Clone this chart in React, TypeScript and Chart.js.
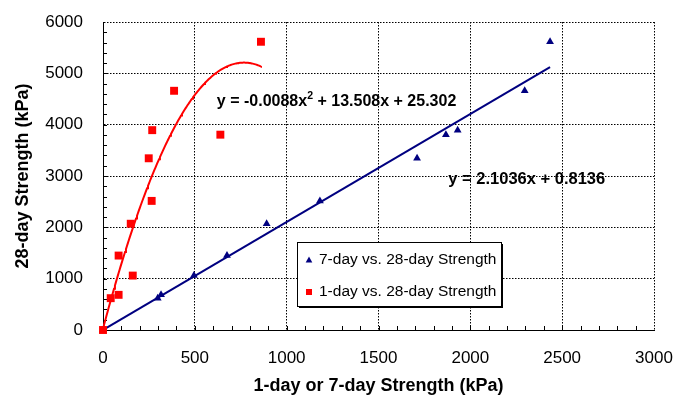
import React, { useEffect, useRef } from 'react';
import { Chart, registerables } from 'chart.js';

Chart.register(...registerables);

const FONT = '"Liberation Sans", Arial, Helvetica, sans-serif';
const NAVY = '#000080';
const RED = '#FF0000';

// 28-day strength (kPa) of each specimen
const strength28 = [0, 620, 685, 1060, 1450, 2070, 2515, 3345, 3805, 3893, 4660, 5615];
// 7-day strength (kPa) of the same specimens
const strength7 = [0, 298, 316, 495, 675, 891, 1181, 1710, 1867, 1931, 2296, 2434];
// 1-day strength (kPa) of the same specimens
const strength1 = [0, 42, 85, 162, 85, 151, 265, 249, 639, 268, 387, 860];

// Trendline coefficients (highest power first)
const linearFit = [2.1036, 0.8136];
const quadFit = [-0.0088, 13.508, 25.302];

// Axis ticks
const xTicks = [0, 500, 1000, 1500, 2000, 2500, 3000];
const yTicks = [0, 1000, 2000, 3000, 4000, 5000, 6000];
const X_MINOR = 100;
const Y_MINOR = 200;

const seriesNames = ['7-day vs. 28-day Strength', '1-day vs. 28-day Strength'];
const xTitle = '1-day or 7-day Strength (kPa)';
const yTitle = '28-day Strength (kPa)';

// Equation labels: text parts and the data position where each one starts
const quadLabel = [{ t: 'y = -0.0088x' }, { t: '2', sup: true }, { t: ' + 13.508x + 25.302' }];
const quadLabelAt = { x: 620, y: 4442 };
const linLabel = [{ t: 'y = 2.1036x + 0.8136' }];
const linLabelAt = { x: 1880, y: 2942 };

const evalPoly = (c: number[], x: number) => c.reduce((acc, k) => acc * x + k, 0);

const fitPoints = (c: number[], xMax: number, step: number) => {
  const pts: { x: number; y: number }[] = [];
  for (let x = 0; x < xMax; x += step) pts.push({ x, y: evalPoly(c, x) });
  pts.push({ x: xMax, y: evalPoly(c, xMax) });
  return pts;
};

const drawEquation = (ctx: CanvasRenderingContext2D, parts: { t: string; sup?: boolean }[], x: number, y: number, size: number) => {
  let cx = x;
  ctx.textAlign = 'left';
  ctx.textBaseline = 'middle';
  ctx.fillStyle = '#000';
  for (const p of parts) {
    const s = p.sup ? size * 0.66 : size;
    ctx.font = `bold ${s}px ${FONT}`;
    ctx.fillText(p.t, cx, p.sup ? y - size * 0.36 : y);
    cx += ctx.measureText(p.t).width;
  }
};

const decorations = {
  id: 'decorations',
  beforeDatasetsDraw(chart: any) {
    const { ctx, chartArea: a, scales } = chart;
    const x = scales.x;
    const y = scales.y;
    ctx.save();
    ctx.strokeStyle = '#000';
    ctx.lineWidth = 1;
    ctx.beginPath();
    for (let v = X_MINOR; v < x.max; v += X_MINOR) {
      const px = Math.round(x.getPixelForValue(v)) + 0.5;
      ctx.moveTo(px, a.bottom);
      ctx.lineTo(px, a.bottom - 4);
    }
    for (let v = Y_MINOR; v < y.max; v += Y_MINOR) {
      const py = Math.round(y.getPixelForValue(v)) + 0.5;
      ctx.moveTo(a.left, py);
      ctx.lineTo(a.left + 4, py);
    }
    ctx.stroke();
    ctx.restore();
  },
  afterDraw(chart: any) {
    const { ctx, chartArea: a, scales } = chart;
    const x = scales.x;
    const y = scales.y;
    ctx.save();
    drawEquation(ctx, quadLabel, x.getPixelForValue(quadLabelAt.x), y.getPixelForValue(quadLabelAt.y), 16);
    drawEquation(ctx, linLabel, x.getPixelForValue(linLabelAt.x), y.getPixelForValue(linLabelAt.y), 16.5);

    // legend box with drop shadow
    const bx = a.left + 194;
    const by = a.top + 220;
    const bw = 204;
    const bh = 64;
    ctx.fillStyle = '#000';
    ctx.fillRect(bx + 2, by + 2, bw, bh);
    ctx.fillStyle = '#fff';
    ctx.fillRect(bx, by, bw, bh);
    ctx.strokeStyle = '#000';
    ctx.lineWidth = 1;
    ctx.strokeRect(bx + 0.5, by + 0.5, bw, bh);

    const mx = bx + 12;
    const row1 = by + 18;
    const row2 = by + 50;
    ctx.fillStyle = NAVY;
    ctx.beginPath();
    ctx.moveTo(mx, row1 - 3.5);
    ctx.lineTo(mx + 3.3, row1 + 2.5);
    ctx.lineTo(mx - 3.3, row1 + 2.5);
    ctx.closePath();
    ctx.fill();
    ctx.fillStyle = RED;
    ctx.fillRect(mx - 3, row2 - 3, 6, 6);

    ctx.fillStyle = '#000';
    ctx.font = `15.5px ${FONT}`;
    ctx.textAlign = 'left';
    ctx.textBaseline = 'middle';
    ctx.fillText(seriesNames[0], bx + 22, row1);
    ctx.fillText(seriesNames[1], bx + 22, row2);
    ctx.restore();
  },
};

const plainNumber = (v: number | string) => String(v);

export default function App() {
  const ref = useRef<HTMLCanvasElement | null>(null);

  useEffect(() => {
    if (!ref.current) return;
    const max7 = Math.max(...strength7);
    const max1 = Math.max(...strength1);
    const chart = new Chart(ref.current, {
      type: 'scatter',
      data: {
        datasets: [
          {
            label: seriesNames[0],
            data: strength7.map((v, i) => ({ x: v, y: strength28[i] })),
            pointStyle: 'triangle',
            pointRadius: 4.5,
            backgroundColor: NAVY,
            borderWidth: 0,
            clip: false,
            order: 2,
          },
          {
            label: seriesNames[1],
            data: strength1.map((v, i) => ({ x: v, y: strength28[i] })),
            pointStyle: 'rect',
            pointRadius: 5.6,
            backgroundColor: RED,
            borderWidth: 0,
            clip: false,
            order: 1,
          },
          {
            label: 'Linear (7-day)',
            data: fitPoints(linearFit, max7, max7),
            showLine: true,
            pointRadius: 0,
            borderColor: NAVY,
            borderWidth: 2,
            order: 3,
          },
          {
            label: 'Poly. (1-day)',
            data: fitPoints(quadFit, max1, 5),
            showLine: true,
            pointRadius: 0,
            borderColor: RED,
            borderWidth: 2,
            order: 3,
          },
        ],
      },
      options: {
        responsive: false,
        animation: false,
        devicePixelRatio: 1,
        layout: { padding: { left: 0, top: 22, right: 20, bottom: 0 } },
        plugins: { legend: { display: false }, tooltip: { enabled: false } },
        scales: {
          x: {
            type: 'linear',
            min: 0,
            max: 3000,
            afterBuildTicks: (s: any) => {
              s.ticks = xTicks.map((v) => ({ value: v }));
            },
            afterFit: (s: any) => {
              s.height = 66;
              s.paddingLeft = 0;
              s.paddingRight = 0;
            },
            ticks: {
              color: '#000',
              font: { family: FONT, size: 17 },
              padding: 18,
              maxRotation: 0,
              autoSkip: false,
              callback: plainNumber,
            },
            grid: { color: '#000', lineWidth: 1, drawTicks: false },
            border: { display: true, color: '#000', width: 1, dash: [1.5, 1.5] },
            title: {
              display: true,
              text: xTitle,
              color: '#000',
              font: { family: FONT, size: 18, weight: 'bold', lineHeight: 1 },
              padding: { top: 0, bottom: 1 },
            },
          },
          y: {
            type: 'linear',
            min: 0,
            max: 6000,
            afterBuildTicks: (s: any) => {
              s.ticks = yTicks.map((v) => ({ value: v }));
            },
            afterFit: (s: any) => {
              s.width = 103;
              s.paddingTop = 0;
              s.paddingBottom = 0;
            },
            ticks: { color: '#000', font: { family: FONT, size: 17 }, padding: 20, autoSkip: false, callback: plainNumber },
            grid: { color: '#000', lineWidth: 1, drawTicks: false },
            border: { display: true, color: '#000', width: 1, dash: [1.5, 1.5] },
            title: {
              display: true,
              text: yTitle,
              color: '#000',
              font: { family: FONT, size: 18, weight: 'bold', lineHeight: 1 },
              padding: { top: 14, bottom: 0 },
            },
          },
        },
      } as any,
      plugins: [decorations],
    });
    return () => chart.destroy();
  }, []);

  return (
    <div style={{ position: 'absolute', left: 0, top: 0, width: 674, height: 396, background: '#fff' }}>
      <canvas ref={ref} width={674} height={396} style={{ display: 'block' }} />
    </div>
  );
}
